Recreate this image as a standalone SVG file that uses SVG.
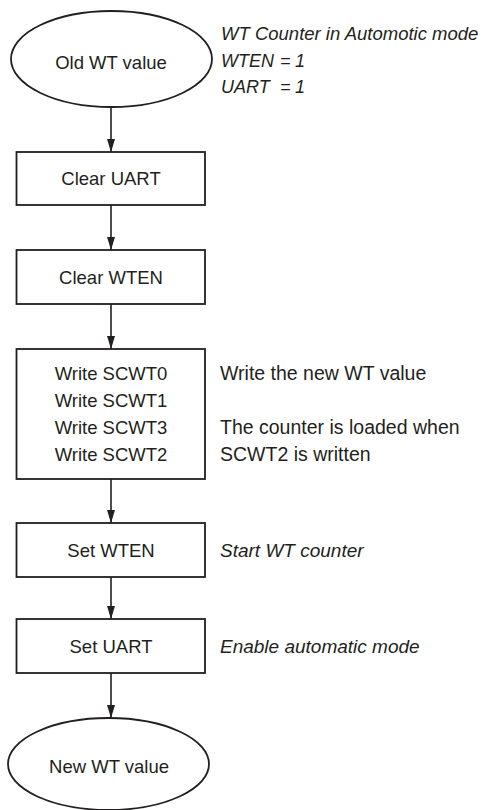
<svg xmlns="http://www.w3.org/2000/svg" width="484" height="810" viewBox="0 0 484 810">
<defs>
<marker id="ah" markerUnits="userSpaceOnUse" markerWidth="14" markerHeight="10" refX="13" refY="4" orient="auto">
<path d="M0,0 L13,4 L0,8 Z" fill="#231f20"/>
</marker>
<style>
.s{fill:#fff;stroke:#231f20;stroke-width:1.8}
.t{font-family:"Liberation Sans",Arial,sans-serif;font-size:18.5px;fill:#231f20}
.n{font-size:19.5px}
.c{text-anchor:middle}
.i{font-style:italic;font-size:19px}
.k{font-size:18px}
.e{stroke:#231f20;stroke-width:1.6;fill:none;marker-end:url(#ah)}
</style>
</defs>
<rect width="484" height="810" fill="#fff"/>
<g id="connectors">
<line class="e" x1="111" y1="107" x2="111" y2="152"/>
<line class="e" x1="111" y1="205" x2="111" y2="250"/>
<line class="e" x1="111" y1="304" x2="111" y2="349"/>
<line class="e" x1="111" y1="479" x2="111" y2="523"/>
<line class="e" x1="111" y1="577" x2="111" y2="619"/>
<line class="e" x1="111" y1="673" x2="111" y2="718"/>
</g>
<g id="old">
<ellipse class="s" cx="111.5" cy="59" rx="100.5" ry="48"/>
<text class="t c" x="111" y="69">Old WT value</text>
</g>
<g id="note-top">
<text class="t i" x="221" y="40" style="font-size:18.5px">WT Counter in Automotic mode</text>
<text class="t i k" y="66.5"><tspan x="221">WTEN</tspan><tspan x="280">=</tspan><tspan x="295">1</tspan></text>
<text class="t i k" y="92.5"><tspan x="221">UART</tspan><tspan x="280">=</tspan><tspan x="295">1</tspan></text>
</g>
<g id="clear-uart">
<rect class="s" x="16.5" y="152" width="188.5" height="53"/>
<text class="t c" x="111" y="185">Clear UART</text>
</g>
<g id="clear-wten">
<rect class="s" x="16.5" y="250" width="188.5" height="54"/>
<text class="t c" x="111" y="283.5">Clear WTEN</text>
</g>
<g id="write">
<rect class="s" x="16.5" y="349" width="188.5" height="130"/>
<text class="t c" x="111" y="380">Write SCWT0</text>
<text class="t c" x="111" y="407">Write SCWT1</text>
<text class="t c" x="111" y="434">Write SCWT3</text>
<text class="t c" x="111" y="461">Write SCWT2</text>
</g>
<g id="note-write">
<text class="t n" x="220" y="380">Write the new WT value</text>
<text class="t n" x="220" y="434">The counter is loaded when</text>
<text class="t n" x="220" y="461">SCWT2 is written</text>
</g>
<g id="set-wten">
<rect class="s" x="16.5" y="523" width="188.5" height="54"/>
<text class="t c" x="111" y="556.5">Set WTEN</text>
<text class="t i" x="220" y="556.5">Start WT counter</text>
</g>
<g id="set-uart">
<rect class="s" x="16.5" y="619" width="188.5" height="54"/>
<text class="t c" x="111" y="652.5">Set UART</text>
<text class="t i" x="220" y="652.5">Enable automatic mode</text>
</g>
<g id="new">
<ellipse class="s" cx="108.5" cy="764" rx="100.5" ry="46"/>
<text class="t c" x="109" y="772.5">New WT value</text>
</g>
</svg>
